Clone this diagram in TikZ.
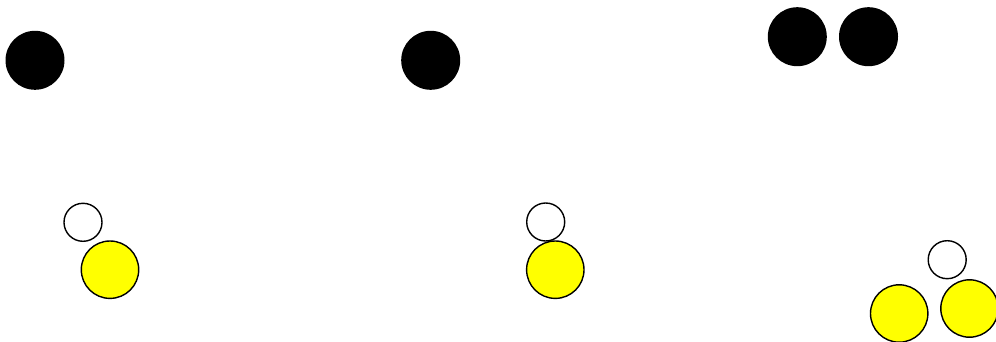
\documentclass[tikz,border=0pt]{standalone}
\definecolor{pureyellow}{RGB}{255,255,0}
\begin{document}
\begin{tikzpicture}[x=1pt,y=-1pt,
  blackball/.style={circle,fill=black,inner sep=0pt,minimum size=59pt},
  whiteball/.style={circle,draw=black,fill=white,line width=1.4pt,inner sep=0pt,minimum size=38pt},
  yellowball/.style={circle,draw=black,fill=pureyellow,line width=1.4pt,inner sep=0pt,minimum size=57.4pt}]
\useasboundingbox (0,0) rectangle (996,342);
% panel 1
\node[blackball] (b1) at (35,60.3) {};
\node[whiteball] (w1) at (83,222.3) {};
\node[yellowball] (y1) at (110,269.7) {};
% panel 2
\node[blackball] (b2) at (430.7,60.3) {};
\node[whiteball] (w2) at (545.7,222) {};
\node[yellowball] (y2) at (555.3,269.7) {};
% panel 3
\node[blackball] (b3) at (797.3,36.7) {};
\node[blackball] (b4) at (868.5,36.7) {};
\node[whiteball] (w3) at (947.2,259.7) {};
\node[yellowball] (y3) at (899.2,313.5) {};
\node[yellowball] (y4) at (969.5,308.5) {};
\end{tikzpicture}
\end{document}
